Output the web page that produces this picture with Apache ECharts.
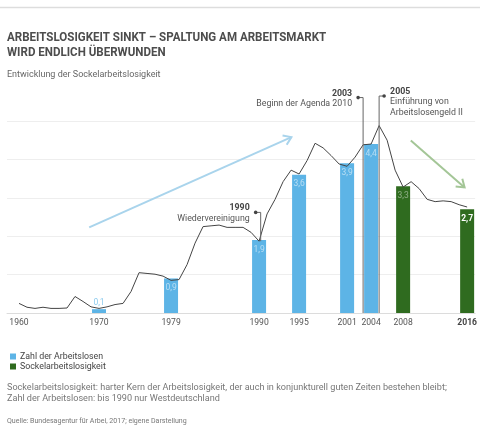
<!DOCTYPE html>
<html><head><meta charset="utf-8">
<script src="https://cdn.jsdelivr.net/npm/echarts@6/dist/echarts.min.js"></script>
<style>html,body{margin:0;padding:0;background:#fff}#c{width:480px;height:442px}</style>
</head><body><div id="c"></div>
<script>
// ---- data ----
const lineYears = [1960,1961,1962,1963,1964,1965,1966,1967,1968,1969,1970,1971,1972,1973,1974,1975,1976,1977,1978,1979,1980,1981,1982,1983,1984,1985,1986,1987,1988,1989,1990,1991,1992,1993,1994,1995,1996,1997,1998,1999,2000,2001,2002,2003,2004,2005,2006,2007,2008,2009,2010,2011,2012,2013,2014,2015,2016];
const lineValues = [0.25,0.15,0.12,0.15,0.12,0.12,0.13,0.43,0.30,0.16,0.12,0.16,0.22,0.25,0.56,1.05,1.03,1.01,0.96,0.85,0.87,1.26,1.82,2.25,2.27,2.29,2.23,2.23,2.23,2.10,1.87,2.58,2.96,3.42,3.72,3.62,3.97,4.42,4.30,4.10,3.88,3.82,4.06,4.38,4.40,4.88,4.50,3.72,3.28,3.42,3.24,2.96,2.90,2.92,2.90,2.82,2.76];
const blueYears = [1970,1979,1990,1995,2001,2004];
const blueValues = [0.1,0.9,1.9,3.6,3.9,4.4];
const greenYears = [2008,2016];
const greenValues = [3.3,2.7];
const tickYears = [1960,1970,1979,1990,1995,2001,2004,2008,2016];
const annYears = [1990.2,2003,2005];
const annTops = [2.62,5.61,5.65];
const annBottoms = [1.87,0,0];
const annTitles = ['1990','2003','2005'];
const annTexts = [['Wiedervereinigung'],['Beginn der Agenda 2010'],['Einführung von','Arbeitslosengeld II']];
const annSides = [-1,-1,1];
const arrowStarts = [[1968.77,2.23],[2008.96,4.49]];
const arrowEnds = [[1994.04,4.58],[2015.68,3.27]];
const arrowColors = ['#a9d4ec','#a4c697'];

const FONT = 'Roboto';
const fmt = v => String(v).replace('.', ',');

const chart = echarts.init(document.getElementById('c'), null, {renderer:'canvas'});
const blueData = blueYears.map((y,i)=>[y,blueValues[i]]);
const greenData = greenYears.map((y,i)=>[y,greenValues[i]]);

chart.setOption({
  animation:false,
  textStyle:{fontFamily:FONT},
  grid:{left:7,right:0,top:121,bottom:129,containLabel:false},
  legend:{
    orient:'vertical',left:5,top:346,itemWidth:6,itemHeight:6,itemGap:-1,
    icon:'rect',
    data:['Zahl der Arbeitslosen','Sockelarbeitslosigkeit'],
    textStyle:{fontFamily:FONT,fontSize:8.8,color:'#444',lineHeight:11,padding:[0,0,0,-1]}
  },
  xAxis:{
    type:'value',min:1958.5,max:2017,
    axisLine:{show:true,lineStyle:{color:'#dcdcdc'}},
    axisTick:{show:false},
    splitLine:{show:false},
    axisLabel:{
      customValues:tickYears,margin:5,fontSize:8.6,color:'#555',fontFamily:FONT,
      formatter:v=> v===2016 ? '{b|2016}' : String(v),
      rich:{b:{fontWeight:'bold',fontSize:8.6,color:'#444',fontFamily:FONT}}
    }
  },
  yAxis:{
    type:'value',min:0,max:5,interval:1,
    axisLine:{show:false},axisTick:{show:false},axisLabel:{show:false},
    splitLine:{lineStyle:{color:'#eeeeee',width:1}}
  },
  graphic:[
    {type:'line',shape:{x1:0,y1:7.5,x2:480,y2:7.5},style:{stroke:'#dddddd',lineWidth:1.5}},
    {type:'text',x:7,y:38,scaleX:0.925,style:{text:'ARBEITSLOSIGKEIT SINKT – SPALTUNG AM ARBEITSMARKT',fontFamily:FONT,fontWeight:'bold',fontSize:12.5,fill:'#4d4d4d',textVerticalAlign:'middle',verticalAlign:'middle'}},
    {type:'text',x:7,y:52.8,scaleX:0.925,style:{text:'WIRD ENDLICH ÜBERWUNDEN',fontFamily:FONT,fontWeight:'bold',fontSize:12.5,fill:'#4d4d4d',textVerticalAlign:'middle',verticalAlign:'middle'}},
    {type:'text',x:7,y:75,style:{text:'Entwicklung der Sockelarbeitslosigkeit',fontFamily:FONT,fontSize:9,fill:'#666',textVerticalAlign:'middle',verticalAlign:'middle'}},
    {type:'text',x:7,y:387.3,style:{text:'Sockelarbeitslosigkeit: harter Kern der Arbeitslosigkeit, der auch in konjunkturell guten Zeiten bestehen bleibt;',fontFamily:FONT,fontSize:9.1,fill:'#777',textVerticalAlign:'middle',verticalAlign:'middle'}},
    {type:'text',x:7,y:398.3,style:{text:'Zahl der Arbeitslosen: bis 1990 nur Westdeutschland',fontFamily:FONT,fontSize:9.1,fill:'#777',textVerticalAlign:'middle',verticalAlign:'middle'}},
    {type:'text',x:7,y:421.7,style:{text:'Quelle: Bundesagentur für Arbei, 2017; eigene Darstellung',fontFamily:FONT,fontSize:7.05,fill:'#777',textVerticalAlign:'middle',verticalAlign:'middle'}}
  ],
  series:[
    {
      name:'Zahl der Arbeitslosen',type:'bar',data:blueData,barWidth:14,
      itemStyle:{color:'#5db4e6'},z:2,
      label:{show:true,position:'insideTop',distance:5,fontSize:8.5,fontFamily:FONT,color:'rgba(255,255,255,0.55)',
        formatter:p=>fmt(p.value[1])}
    },
    {
      name:'Sockelarbeitslosigkeit',type:'bar',data:greenData,barWidth:14,barGap:'-100%',
      itemStyle:{color:'#2f6b1f'},z:2,
      label:{show:true,position:'insideTop',distance:5,fontSize:8.5,fontFamily:FONT,color:'rgba(255,255,255,0.45)',
        formatter:p=>fmt(p.value[1])}
    },
    {
      name:'line',type:'line',data:lineYears.map((y,i)=>[y,lineValues[i]]),
      showSymbol:false,symbol:'none',lineStyle:{color:'#444',width:1},z:5
    },
    {
      name:'arrows',type:'custom',z:1,clip:false,
      data:arrowStarts.map((s,i)=>[s[0],s[1],arrowEnds[i][0],arrowEnds[i][1],i]),
      renderItem:(params,api)=>{
        const p1=api.coord([api.value(0),api.value(1)]);
        const p2=api.coord([api.value(2),api.value(3)]);
        const c=arrowColors[api.value(4)];
        const ang=Math.atan2(p2[1]-p1[1],p2[0]-p1[0]);
        const L=9,a=0.6;
        const h1=[p2[0]-L*Math.cos(ang-a),p2[1]-L*Math.sin(ang-a)];
        const h2=[p2[0]-L*Math.cos(ang+a),p2[1]-L*Math.sin(ang+a)];
        return {type:'group',children:[
          {type:'line',shape:{x1:p1[0],y1:p1[1],x2:p2[0],y2:p2[1]},style:{stroke:c,lineWidth:2}},
          {type:'polyline',shape:{points:[h1,p2,h2]},style:{stroke:c,lineWidth:2,fill:null}}
        ]};
      }
    },
    {
      name:'annotations',type:'custom',z:6,clip:false,
      data:annYears.map((y,i)=>[y,annTops[i],annBottoms[i],i]),
      renderItem:(params,api)=>{
        const i=api.value(3);
        const top=api.coord([api.value(0),api.value(1)]);
        const bot=api.coord([api.value(0),api.value(2)]);
        const side=annSides[i];
        const dot=[top[0]+side*5,top[1]];
        const txt='{b|'+annTitles[i]+'}\n'+annTexts[i].join('\n');
        return {type:'group',children:[
          {type:'polyline',shape:{points:[dot,top,bot]},style:{stroke:'#666',lineWidth:1,fill:null}},
          {type:'circle',shape:{cx:dot[0],cy:dot[1],r:1.8},style:{fill:'#444'}},
          {type:'text',x:dot[0]+side*6,y:dot[1]-9.5,style:{
            text:txt,fontFamily:FONT,fontSize:8.8,fill:'#555',lineHeight:10.5,
            align:side<0?'right':'left',verticalAlign:'top',
            textAlign:side<0?'right':'left',textVerticalAlign:'top',
            rich:{b:{fontWeight:'bold',fontSize:8.8,fill:'#444',color:'#444',lineHeight:10.5,fontFamily:FONT}}
          }}
        ]};
      }
    }
  ]
});
chart.setOption({series:[
  {data:blueData.map((d,i)=> i===0 ? {value:d,label:{position:'top',distance:2,color:'#8ccbee'}} : d)},
  {data:greenData.map((d,i)=> i===1 ? {value:d,label:{color:'#ffffff',fontWeight:'bold'}} : d)}
]});
</script></body></html>
